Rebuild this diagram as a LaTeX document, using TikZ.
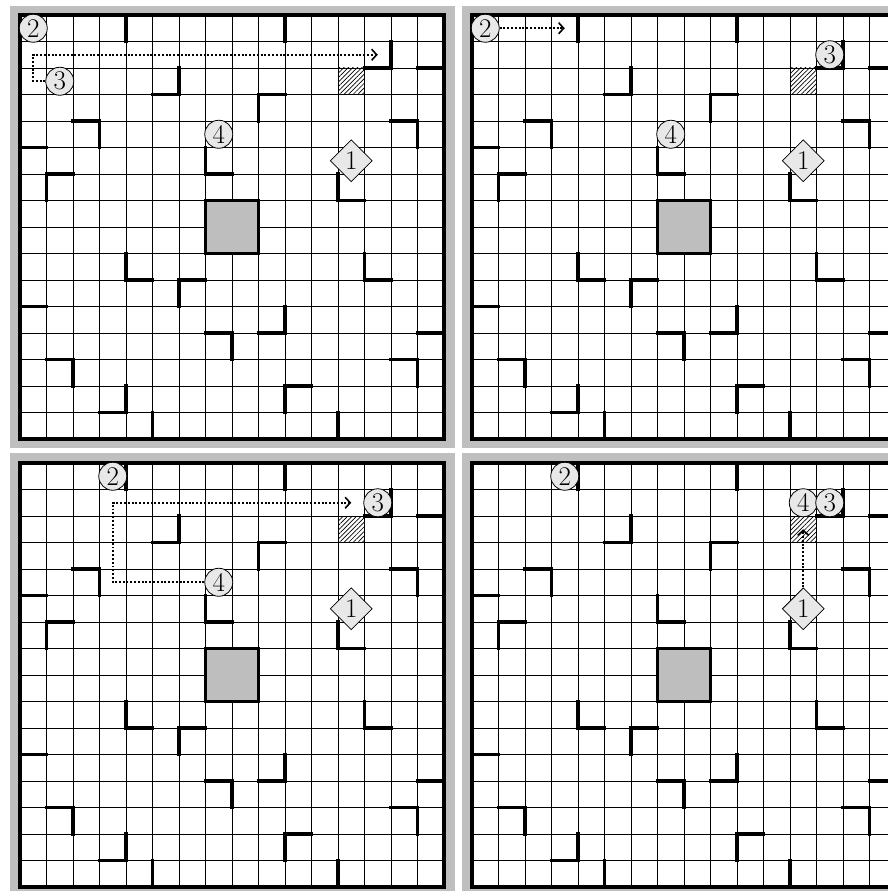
\documentclass[tikz,border=0pt]{standalone}
\usetikzlibrary{shapes.geometric,arrows.meta,patterns.meta}
\definecolor{panelgray}{RGB}{191,191,191}
\definecolor{blockgray}{RGB}{190,190,190}
\definecolor{robotfill}{RGB}{232,232,232}
\tikzset{
  gridline/.style={line width=0.9pt, black},
  wall/.style={line width=3.6pt, line cap=rect},
  border/.style={line width=4.4pt, line join=miter},
  block/.style={fill=blockgray, draw=black, line width=3.6pt},
  target/.style={pattern={Lines[angle=45,distance=3.2pt,line width=0.7pt]}},
  robot/.style={circle, draw=black, line width=0.8pt, fill=robotfill, minimum size=28pt, inner sep=0pt, font=\fontsize{27}{27}\selectfont},
  robotone/.style={diamond, draw=black, line width=0.8pt, fill=robotfill, minimum width=42pt, minimum height=42pt, inner sep=0pt, font=\fontsize{27}{27}\selectfont},
  move/.style={line width=2.2pt, dash pattern=on 1.9pt off 1.9pt, -{Straight Barb[length=5pt,width=11pt,line width=1.6pt]}},
  panel/.style={fill=panelgray},
}
\newcommand\drawboard{%
  \fill[white] (0,0) rectangle (16,16);
  \fill[target] (12,2) rectangle (13,3);
  \foreach \i in {1,...,15}{\draw[gridline] (\i,0) -- (\i,16); \draw[gridline] (0,\i) -- (16,\i);}
  \draw[block] (7,7) rectangle (9,9);
  \foreach \xl/\r in {4/0,10/0,14/1,6/2,9/3,3/4,15/4,7/5,1/6,12/6,4/9,13/9,6/10,10/11,8/12,2/13,15/13,4/14,10/14,5/15,12/15}{\draw[wall] (\xl,\r) -- (\xl,\r+1);}
  \foreach \yl/\c in {2/13,2/15,3/5,3/9,4/2,4/14,5/0,6/1,6/7,7/12,10/4,10/6,10/13,11/0,12/7,12/9,12/15,13/1,13/14,14/10,15/3}{\draw[wall] (\c,\yl) -- (\c+1,\yl);}
  \draw[border] (0,0) rectangle (16,16);
}
\begin{document}
\begin{tikzpicture}[x=1pt,y=-1pt]
\useasboundingbox (0,0) rectangle (888,891);
\clip (0,0) rectangle (888,891);
\fill[white] (0,0) rectangle (888,891);
\fill[panel] (10,6) rectangle (455,448);
\fill[panel] (462,6) rectangle (900,448);
\fill[panel] (10,453) rectangle (455,900);
\fill[panel] (462,453) rectangle (900,900);
% top left
\begin{scope}[shift={(20,15)}, x=26.5pt, y=-26.5pt]
  \drawboard
  \node[robotone] (tl1) at (12.5,5.5) {1};
  \node[robot] (tl2) at (0.5,0.5) {2};
  \node[robot] (tl3) at (1.5,2.5) {3};
  \node[robot] (tl4) at (7.5,4.5) {4};
  \coordinate (tlA) at (0.5,2.5);
  \coordinate (tlB) at (0.5,1.5);
  \coordinate (tlC) at (13.5,1.5);
  \draw[move] (tl3) -- (tlA) -- (tlB) -- (tlC);
\end{scope}
% top right
\begin{scope}[shift={(472,15)}, x=26.5pt, y=-26.5pt]
  \drawboard
  \node[robotone] (tr1) at (12.5,5.5) {1};
  \node[robot] (tr2) at (0.5,0.5) {2};
  \node[robot] (tr3) at (13.5,1.5) {3};
  \node[robot] (tr4) at (7.5,4.5) {4};
  \coordinate (trA) at (3.5,0.5);
  \draw[move] (tr2) -- (trA);
\end{scope}
% bottom left
\begin{scope}[shift={(20,463)}, x=26.5pt, y=-26.5pt]
  \drawboard
  \node[robotone] (bl1) at (12.5,5.5) {1};
  \node[robot] (bl2) at (3.5,0.5) {2};
  \node[robot] (bl3) at (13.5,1.5) {3};
  \node[robot] (bl4) at (7.5,4.5) {4};
  \coordinate (blA) at (3.5,4.5);
  \coordinate (blB) at (3.5,1.5);
  \coordinate (blC) at (12.5,1.5);
  \draw[move] (bl4) -- (blA) -- (blB) -- (blC);
\end{scope}
% bottom right
\begin{scope}[shift={(472,463)}, x=26.5pt, y=-26.5pt]
  \drawboard
  \node[robotone] (br1) at (12.5,5.5) {1};
  \node[robot] (br2) at (3.5,0.5) {2};
  \node[robot] (br4) at (12.5,1.5) {4};
  \node[robot] (br3) at (13.5,1.5) {3};
  \coordinate (brA) at (12.5,2.5);
  \draw[move] (br1) -- (brA);
\end{scope}
\end{tikzpicture}
\end{document}
